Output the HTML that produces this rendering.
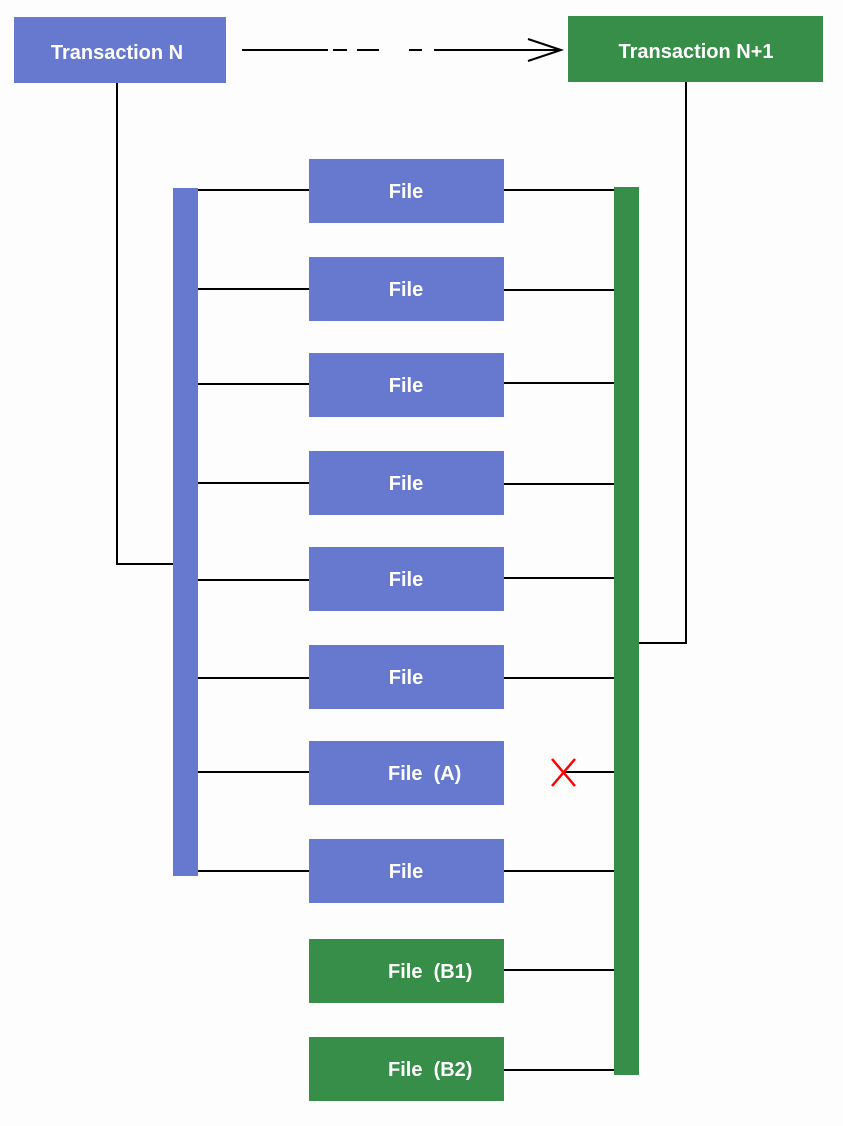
<!DOCTYPE html>
<html><head><style>
body{margin:0;background:#fcfdfc;}
svg text{font-family:"Liberation Sans",sans-serif;font-weight:bold;fill:#fff;font-size:20px;}
</style></head><body>
<svg width="843" height="1121" xmlns="http://www.w3.org/2000/svg">
<rect x="14" y="17" width="212" height="66" fill="#6679cf"/>
<text x="117" y="59" text-anchor="middle">Transaction N</text>
<rect x="568" y="16" width="255" height="66" fill="#378e48"/>
<text x="696" y="58" text-anchor="middle">Transaction N+1</text>
<g stroke="#000" stroke-width="2" fill="none">
<line x1="242" y1="50" x2="328" y2="50"/>
<line x1="333" y1="50" x2="347" y2="50"/>
<line x1="357" y1="50" x2="379" y2="50"/>
<line x1="409" y1="50" x2="422" y2="50"/>
<line x1="434" y1="50" x2="561" y2="50"/>
<polyline points="528,39 561,50 528,61"/>
<polyline points="117,83 117,564 173,564"/>
<polyline points="686,82 686,643 639,643"/>
<line x1="198" y1="190" x2="309" y2="190"/><line x1="504" y1="190" x2="614" y2="190"/>
<line x1="198" y1="289" x2="309" y2="289"/><line x1="504" y1="290" x2="614" y2="290"/>
<line x1="198" y1="384" x2="309" y2="384"/><line x1="504" y1="383" x2="614" y2="383"/>
<line x1="198" y1="483" x2="309" y2="483"/><line x1="504" y1="484" x2="614" y2="484"/>
<line x1="198" y1="580" x2="309" y2="580"/><line x1="504" y1="578" x2="614" y2="578"/>
<line x1="198" y1="678" x2="309" y2="678"/><line x1="504" y1="678" x2="614" y2="678"/>
<line x1="198" y1="772" x2="309" y2="772"/><line x1="565" y1="772" x2="614" y2="772"/>
<line x1="198" y1="871" x2="309" y2="871"/><line x1="504" y1="871" x2="614" y2="871"/>
<line x1="504" y1="970" x2="614" y2="970"/>
<line x1="504" y1="1070" x2="614" y2="1070"/>
</g>
<g stroke="#f00" stroke-width="2.5"><line x1="552" y1="759" x2="575" y2="786"/><line x1="575" y1="759" x2="552" y2="786"/></g>
<rect x="173" y="188" width="25" height="688" fill="#6679cf"/>
<rect x="614" y="187" width="25" height="888" fill="#378e48"/>
<g fill="#6679cf">
<rect x="309" y="159" width="195" height="64"/>
<rect x="309" y="257" width="195" height="64"/>
<rect x="309" y="353" width="195" height="64"/>
<rect x="309" y="451" width="195" height="64"/>
<rect x="309" y="547" width="195" height="64"/>
<rect x="309" y="645" width="195" height="64"/>
<rect x="309" y="741" width="195" height="64"/>
<rect x="309" y="839" width="195" height="64"/>
</g>
<g fill="#378e48">
<rect x="309" y="939" width="195" height="64"/>
<rect x="309" y="1037" width="195" height="64"/>
</g>
<text x="406" y="198" text-anchor="middle">File</text>
<text x="406" y="296" text-anchor="middle">File</text>
<text x="406" y="392" text-anchor="middle">File</text>
<text x="406" y="490" text-anchor="middle">File</text>
<text x="406" y="586" text-anchor="middle">File</text>
<text x="406" y="684" text-anchor="middle">File</text>
<text x="388" y="780">File&#160;&#160;(A)</text>
<text x="406" y="878" text-anchor="middle">File</text>
<text x="388" y="978">File&#160;&#160;(B1)</text>
<text x="388" y="1076">File&#160;&#160;(B2)</text>
</svg>
</body></html>
